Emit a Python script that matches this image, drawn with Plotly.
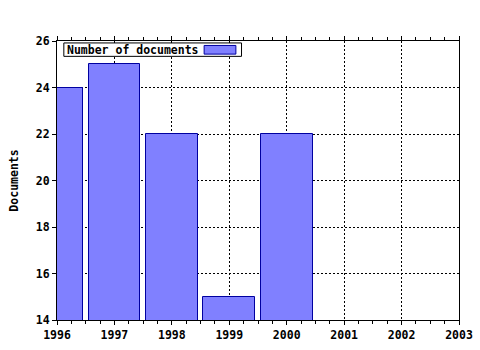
import plotly.graph_objects as go

years = [1996, 1997, 1998, 1999, 2000]
documents = [24, 25, 22, 15, 22]
series_name = "Number of documents"
y_title = "Documents"

FONT = "DejaVu Sans Mono"

fig = go.Figure()
fig.add_trace(go.Bar(
    x=years, y=documents, width=0.9, name=series_name,
    marker=dict(color="#8080FF", line=dict(color="#0000A0", width=1)),
    showlegend=False,
))

# custom legend box (text then swatch, as in the reference)
fig.add_shape(type="rect", xref="paper", yref="paper",
              x0=0.017, x1=0.459, y0=0.945, y1=0.993,
              line=dict(color="black", width=1), fillcolor="white", layer="above")
fig.add_annotation(xref="paper", yref="paper", x=0.019, y=0.969, xanchor="left", yanchor="middle",
                   text=series_name, showarrow=False,
                   font=dict(family=FONT, size=11.5, color="black", weight="bold"))
fig.add_shape(type="rect", xref="paper", yref="paper",
              x0=0.366, x1=0.445, y0=0.953, y1=0.984,
              line=dict(color="#0000A0", width=1), fillcolor="#8080FF", layer="above")

fig.update_layout(
    width=480, height=350,
    margin=dict(l=57, r=21, t=41, b=30),
    paper_bgcolor="white", plot_bgcolor="white",
    font=dict(family=FONT, size=11.5, color="black", weight="bold"),
    bargap=0,
    xaxis=dict(
        range=[1996, 2003], tickvals=list(range(1996, 2004)), ticktext=[str(v) for v in range(1996, 2004)],
        showline=True, linecolor="black", linewidth=1, mirror="allticks",
        ticks="outside", ticklen=4, tickcolor="black",
        showgrid=True, gridcolor="black", griddash="2px,2px", gridwidth=1,
        minor=dict(dtick=0.25, tick0=1996, ticks="outside", ticklen=3, tickcolor="black", showgrid=False),
        zeroline=False, automargin=False, tickfont=dict(family=FONT, size=11.5, weight="bold"),
    ),
    yaxis=dict(
        range=[14, 26], dtick=2, tick0=14,
        showline=True, linecolor="black", linewidth=1, mirror=True,
        ticks="outside", ticklen=4, tickcolor="black",
        showgrid=True, gridcolor="black", griddash="2px,2px", gridwidth=1,
        zeroline=False, automargin=False, tickfont=dict(family=FONT, size=11.5, weight="bold"),
        title=dict(text=y_title, standoff=14, font=dict(family=FONT, size=11.5, weight="bold")),
    ),
)

fig.write_html("out.html")
